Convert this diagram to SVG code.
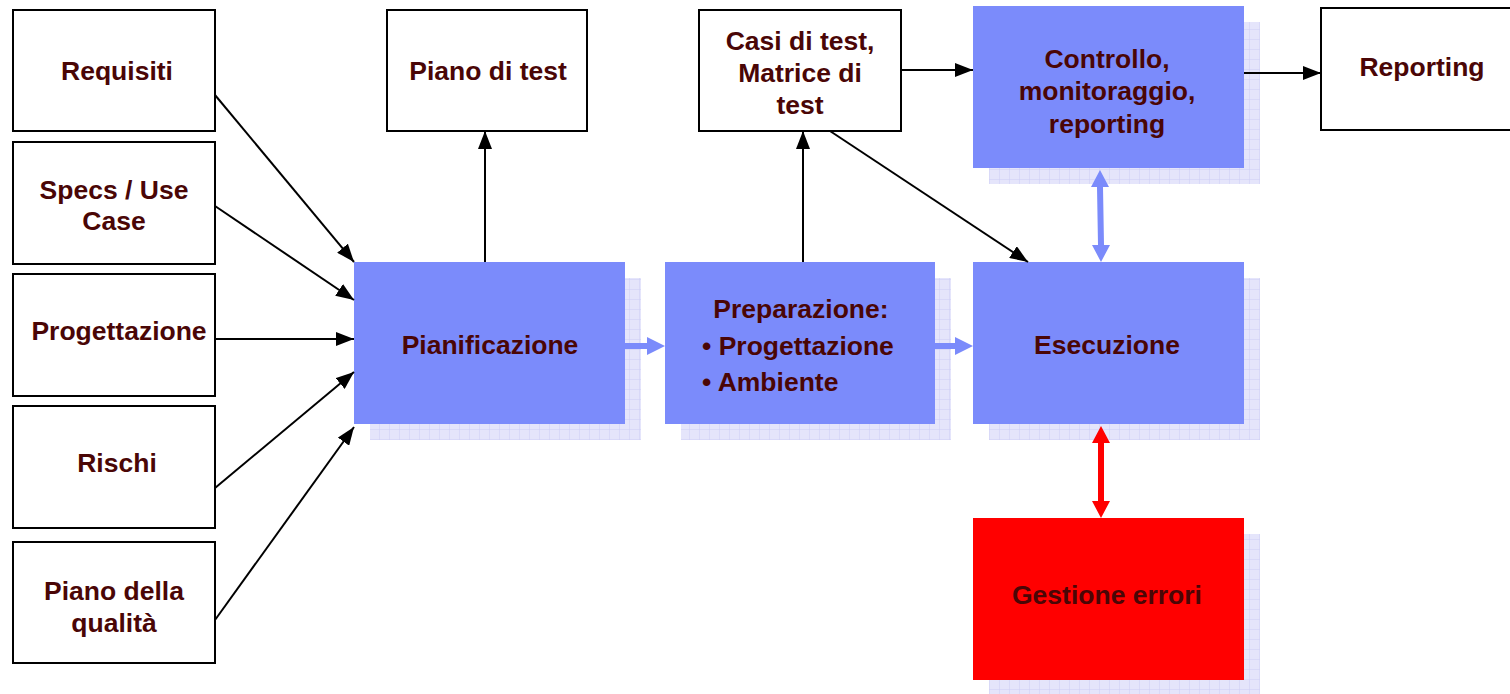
<svg xmlns="http://www.w3.org/2000/svg" width="1510" height="694" viewBox="0 0 1510 694">
  <defs>
    <pattern id="grid" width="10" height="10" patternUnits="userSpaceOnUse">
      <rect width="10" height="10" fill="#E5E5FB"/>
      <path d="M10 0V10M0 10H10" stroke="#CDCDF5" stroke-width="1" fill="none"/>
    </pattern>
    <marker id="ah" markerUnits="userSpaceOnUse" markerWidth="20" markerHeight="14" refX="18" refY="7" orient="auto">
      <path d="M0 0L18 7L0 14Z" fill="#000"/>
    </marker>
  </defs>
  <style>
    .box { fill: #FFFFFF; stroke: #000; stroke-width: 2; }
    .blue { fill: #7B8BFB; }
    .red { fill: #FF0000; }
    .shadow { fill: url(#grid); }
    text { font-family: "Liberation Sans", Arial, sans-serif; font-weight: bold; font-size: 26.5px; fill: #4A0606; text-anchor: middle; }
    .ln { stroke: #000; stroke-width: 2; fill: none; marker-end: url(#ah); }
    .bfat { fill: #7B8BFB; }
    .rfat { fill: #FF0000; }
  </style>
  <rect width="1510" height="694" fill="#FFFFFF"/>

  <!-- input documents -->
  <g id="requisiti"><rect class="box" x="13" y="10" width="202" height="121"/><text x="117" y="80">Requisiti</text></g>
  <g id="specs"><rect class="box" x="13" y="142" width="202" height="122"/><text x="114" y="199">Specs / Use</text><text x="114" y="230">Case</text></g>
  <g id="progettazione"><rect class="box" x="13" y="274" width="202" height="122"/><text x="119" y="340">Progettazione</text></g>
  <g id="rischi"><rect class="box" x="13" y="406" width="202" height="122"/><text x="117" y="472">Rischi</text></g>
  <g id="qualita"><rect class="box" x="13" y="542" width="202" height="121"/><text x="114" y="600">Piano della</text><text x="114" y="632">qualità</text></g>

  <!-- outputs -->
  <g id="piano-test"><rect class="box" x="387" y="10" width="200" height="121"/><text x="488" y="80">Piano di test</text></g>
  <g id="casi-test"><rect class="box" x="699" y="10" width="202" height="121"/><text x="800" y="50">Casi di test,</text><text x="800" y="82">Matrice di</text><text x="800" y="114">test</text></g>
  <g id="reporting"><rect class="box" x="1321" y="8" width="200" height="122"/><text x="1422" y="76">Reporting</text></g>

  <!-- process steps -->
  <g id="pianificazione"><rect class="shadow" x="370" y="278" width="271" height="162"/><rect class="blue" x="354" y="262" width="271" height="162"/><text x="490" y="354">Pianificazione</text></g>
  <g id="preparazione"><rect class="shadow" x="681" y="278" width="270" height="162"/><rect class="blue" x="665" y="262" width="270" height="162"/>
    <text x="801" y="318">Preparazione:</text>
    <text x="702" y="355" style="text-anchor:start">• Progettazione</text>
    <text x="702" y="391" style="text-anchor:start">• Ambiente</text></g>
  <g id="esecuzione"><rect class="shadow" x="989" y="278" width="271" height="162"/><rect class="blue" x="973" y="262" width="271" height="162"/><text x="1107" y="354">Esecuzione</text></g>
  <g id="controllo"><rect class="shadow" x="989" y="22" width="271" height="162"/><rect class="blue" x="973" y="6" width="271" height="162"/><text x="1107" y="68">Controllo,</text><text x="1107" y="100">monitoraggio,</text><text x="1107" y="133">reporting</text></g>
  <g id="gestione-errori"><rect class="shadow" x="989" y="534" width="271" height="160"/><rect class="red" x="973" y="518" width="271" height="162"/><text x="1107" y="604">Gestione errori</text></g>

  <!-- connectors -->
  <g id="connectors">
    <path class="ln" d="M215 95L354 262"/>
    <path class="ln" d="M215 206L354 300"/>
    <path class="ln" d="M215 339L354 339"/>
    <path class="ln" d="M215 488L354 372"/>
    <path class="ln" d="M215 620L354 427"/>
    <path class="ln" d="M485 262L485 131"/>
    <path class="ln" d="M803 262L803 131"/>
    <path class="ln" d="M830 131L1028 262"/>
    <path class="ln" d="M901 70L973 70"/>
    <path class="ln" d="M1244 73L1321 73"/>
    <!-- wide block arrows between process steps -->
    <path class="bfat" d="M625 343H647V337L665 346L647 355V349H625Z"/>
    <path class="bfat" d="M935 343H955V337L973 346L955 355V349H935Z"/>
    <path class="bfat" d="M1100 170L1109 187H1103L1104 245H1110L1101 262L1092 245H1098L1097 187H1091Z"/>
    <path class="rfat" d="M1101 426L1110 443H1104V501H1110L1101 518L1092 501H1098V443H1092Z"/>
  </g>
</svg>
